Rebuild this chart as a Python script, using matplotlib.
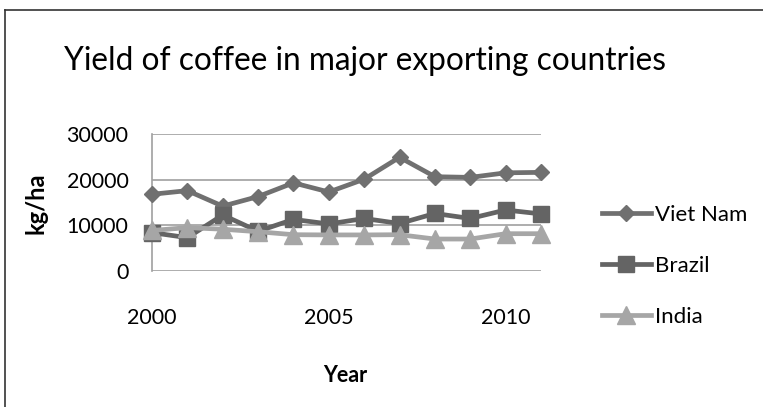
import matplotlib
matplotlib.use("Agg")
import matplotlib.pyplot as plt
from matplotlib.lines import Line2D

plt.rcParams['font.family'] = ['Lato', 'DejaVu Sans']

years = list(range(2000, 2012))
viet_nam = [16800, 17600, 14200, 16300, 19300, 17300, 20100, 24900, 20650, 20500, 21500, 21600]
brazil = [8400, 7300, 12260, 8700, 11300, 10300, 11500, 10400, 12600, 11500, 13360, 12500]
india = [8870, 9500, 9150, 8600, 7950, 7900, 7900, 7950, 7000, 7000, 8170, 8170]
y_ticks = [0, 10000, 20000, 30000]
x_ticks = [2000, 2005, 2010]

W, H = 763, 407
fig = plt.figure(figsize=(W / 100, H / 100), dpi=100)
ax = fig.add_axes([152 / W, 1 - 271 / H, (541 - 152) / W, (271 - 134) / H])

series = [
    ("Viet Nam", viet_nam, "#707070", "D", 8.5),
    ("Brazil", brazil, "#646464", "s", 12),
    ("India", india, "#a6a6a6", "^", 12.5),
]
for name, vals, col, mk, ms in series:
    ax.plot(years, vals, color=col, lw=3.4, marker=mk, markersize=ms,
            markeredgecolor=col, markeredgewidth=1, markerfacecolor=col,
            label=name, clip_on=False, zorder=3)

ax.set_xlim(2000, 2011)
ax.set_ylim(0, 30000)
ax.set_yticks(y_ticks)
ax.set_xticks(x_ticks)
ax.yaxis.grid(True, color="#a0a0a0", lw=1.2)
ax.set_axisbelow(True)
for s in ["top", "right", "bottom"]:
    ax.spines[s].set_visible(False)
ax.spines["left"].set_color("#a0a0a0")
ax.spines["left"].set_linewidth(1.2)
ax.tick_params(axis="both", length=0, labelsize=15.5)
ax.tick_params(axis="y", pad=17)
ax.tick_params(axis="x", pad=27)

# axis titles
fig.text(36 / W, 1 - 203 / H, "kg/ha", fontsize=17, fontweight="bold",
         rotation=90, ha="center", va="center")
fig.text(345 / W, 1 - 376 / H, "Year", fontsize=15.5, fontweight="bold",
         ha="center", va="center")

fig.text(64 / W, 1 - 70 / H, "Yield of coffee in major exporting countries",
         fontsize=22.8, ha="left", va="baseline")

leg = ax.legend(loc="center left", bbox_to_anchor=((602 - 152) / 389, (271 - 266) / 137),
                frameon=False, fontsize=16, handlelength=2.2, labelspacing=1.4,
                handletextpad=0.2, borderaxespad=0, borderpad=0)

# outer chart frame (top and left edges)
fig.add_artist(Line2D([5 / W, 1], [1 - 10 / H, 1 - 10 / H], color="#333333", lw=1.2))
fig.add_artist(Line2D([5 / W, 5 / W], [0, 1 - 10 / H], color="#333333", lw=1.2))

fig.savefig("out.png", dpi=100)
